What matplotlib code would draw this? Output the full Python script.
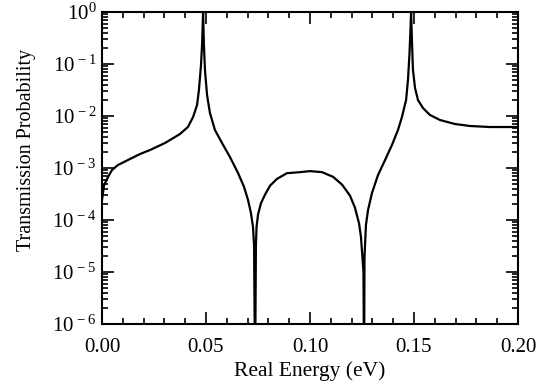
import numpy as np
import matplotlib
matplotlib.use("Agg")
import matplotlib.pyplot as plt
from matplotlib.ticker import LogLocator, MultipleLocator, FixedLocator

plt.rcParams['font.family'] = ['Liberation Serif', 'DejaVu Serif']
plt.rcParams['mathtext.fontset'] = 'custom'
plt.rcParams['mathtext.rm'] = 'Liberation Serif'
plt.rcParams['mathtext.it'] = 'Liberation Serif:italic'

# Data: energy (eV) and log10 of transmission probability
energy = [0.0000, 0.0010, 0.0029, 0.0048, 0.0077, 0.0125, 0.0183, 0.0231, 0.0303,
          0.0375, 0.0413, 0.0438, 0.0457, 0.0466, 0.0476, 0.0481, 0.0486,
          0.0490, 0.0495, 0.0505, 0.0519, 0.0543, 0.0577, 0.0615, 0.0654,
          0.0683, 0.0702, 0.0716, 0.0726, 0.0731, 0.0736,
          0.0740, 0.0743, 0.0750, 0.0764, 0.0784, 0.0808, 0.0841, 0.0889,
          0.0952, 0.1000, 0.1058, 0.1111, 0.1154, 0.1192, 0.1216, 0.1236,
          0.1245, 0.1252, 0.1257, 0.1260,
          0.1262, 0.1269, 0.1279, 0.1298, 0.1327, 0.1361, 0.1394, 0.1423,
          0.1442, 0.1462, 0.1471, 0.1478, 0.1483, 0.1486,
          0.1490, 0.1495, 0.1505, 0.1519, 0.1543, 0.1577, 0.1625, 0.1697,
          0.1769, 0.1865, 0.2000]
log_trans = [-3.615, -3.327, -3.173, -3.038, -2.942, -2.846, -2.731, -2.654, -2.519,
             -2.346, -2.212, -2.019, -1.788, -1.500, -1.019, -0.635, 0.000,
             -0.635, -1.115, -1.596, -1.942, -2.269, -2.519, -2.788, -3.096,
             -3.365, -3.615, -3.865, -4.135, -4.481, -7.000,
             -4.481, -4.135, -3.900, -3.680, -3.510, -3.340, -3.210, -3.100,
             -3.080, -3.060, -3.080, -3.170, -3.320, -3.530, -3.760, -4.070,
             -4.327, -4.712, -5.000, -7.000,
             -4.712, -4.096, -3.808, -3.481, -3.135, -2.846, -2.558, -2.269,
             -2.019, -1.692, -1.308, -0.827, -0.346, 0.000,
             -0.538, -1.115, -1.462, -1.692, -1.846, -1.981, -2.077, -2.154,
             -2.192, -2.212, -2.212]

x_ticks = [0.00, 0.05, 0.10, 0.15, 0.20]
x_tick_labels = ['0.00', '0.05', '0.10', '0.15', '0.20']
y_exps = [-6, -5, -4, -3, -2, -1, 0]

fig = plt.figure(figsize=(5.52, 3.89), dpi=100)
ax = fig.add_axes([102/552, 1-324/389, (518-102)/552, (324-12)/389])

trans = np.power(10.0, np.array(log_trans))
ax.plot(energy, trans, color='black', lw=1.6, solid_joinstyle='round')

ax.set_yscale('log')
ax.set_xlim(0, 0.2)
ax.set_ylim(1e-6, 1)

ax.xaxis.set_major_locator(FixedLocator(x_ticks))
ax.set_xticklabels(x_tick_labels)
ax.xaxis.set_minor_locator(MultipleLocator(0.01))
ax.yaxis.set_major_locator(FixedLocator([10.0**e for e in y_exps]))
ax.set_yticklabels([r'$10^{0}$' if e == 0 else r'$10^{\,-%d}$' % (-e) for e in y_exps])
ax.yaxis.set_minor_locator(LogLocator(base=10, subs=np.arange(2, 10), numticks=20))

ax.tick_params(which='both', direction='in', top=True, right=True, width=1.2,
               labelsize=15, colors='black')
ax.tick_params(which='major', length=8.5, pad=4)
ax.tick_params(which='minor', length=4.5)
ax.tick_params(axis='x', which='major', pad=10)
for s in ax.spines.values():
    s.set_linewidth(1.5)

ax.set_xlabel('Real Energy (eV)', fontsize=15.5, labelpad=3)
ax.set_ylabel('Transmission Probability', fontsize=14.5)
ax.yaxis.set_label_coords(-0.158, 0.558)

fig.savefig('out.png', dpi=100)
